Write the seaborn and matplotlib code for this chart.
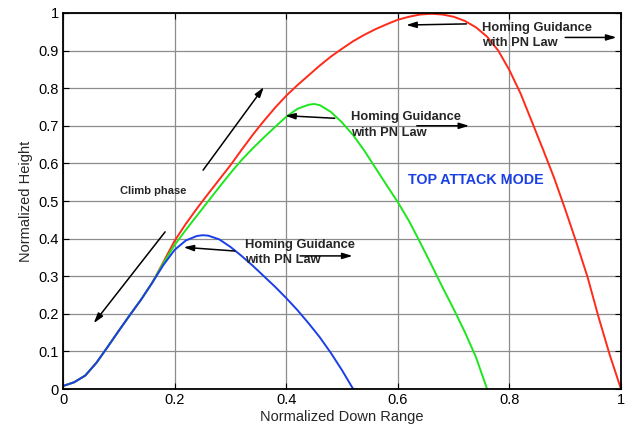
import numpy as np
import pandas as pd
import matplotlib
matplotlib.use('Agg')
import matplotlib.pyplot as plt
from matplotlib.ticker import FuncFormatter
import seaborn as sns

sns.set_style('ticks')
plt.rcParams['font.family'] = ['Liberation Sans', 'DejaVu Sans']

# trajectories (normalized down range, normalized height)
climb_x = [0, 0.02, 0.04, 0.06, 0.08, 0.10, 0.12, 0.14, 0.16]
climb_y = [0.008, 0.018, 0.036, 0.07, 0.112, 0.155, 0.197, 0.238, 0.283]

blue_x = climb_x + [0.18, 0.20, 0.22, 0.24, 0.25, 0.26, 0.28, 0.30, 0.32, 0.34, 0.36,
                    0.38, 0.40, 0.42, 0.44, 0.46, 0.48, 0.50, 0.52]
blue_y = climb_y + [0.33, 0.37, 0.395, 0.407, 0.409, 0.408, 0.398, 0.378, 0.354, 0.328,
                    0.30, 0.272, 0.242, 0.21, 0.175, 0.138, 0.096, 0.05, 0.0]

green_x = climb_x + [0.18, 0.20, 0.22, 0.24, 0.26, 0.28, 0.30, 0.32, 0.34, 0.36, 0.38,
                     0.40, 0.42, 0.44, 0.45, 0.46, 0.48, 0.50, 0.52, 0.54, 0.56, 0.58,
                     0.60, 0.62, 0.64, 0.66, 0.68, 0.70, 0.72, 0.74, 0.76]
green_y = climb_y + [0.335, 0.383, 0.423, 0.461, 0.499, 0.537, 0.574, 0.609, 0.64, 0.669,
                     0.697, 0.724, 0.745, 0.756, 0.758, 0.755, 0.737, 0.709, 0.675,
                     0.634, 0.588, 0.542, 0.497, 0.447, 0.39, 0.331, 0.271, 0.213,
                     0.152, 0.085, 0.0]

red_x = climb_x + [0.18, 0.20, 0.22, 0.24, 0.26, 0.28, 0.30, 0.32, 0.34, 0.36, 0.38,
                   0.40, 0.42, 0.44, 0.46, 0.48, 0.50, 0.52, 0.54, 0.56, 0.58, 0.60,
                   0.62, 0.64, 0.66, 0.68, 0.70, 0.72, 0.74, 0.76, 0.78, 0.80, 0.82,
                   0.84, 0.86, 0.88, 0.90, 0.92, 0.94, 0.96, 0.98, 1.0]
red_y = climb_y + [0.338, 0.394, 0.439, 0.48, 0.519, 0.557, 0.595, 0.636, 0.676, 0.713,
                   0.748, 0.78, 0.808, 0.834, 0.86, 0.884, 0.905, 0.925, 0.942, 0.957,
                   0.97, 0.982, 0.99, 0.996, 0.998, 0.996, 0.99, 0.979, 0.962, 0.937,
                   0.90, 0.848, 0.786, 0.712, 0.638, 0.562, 0.478, 0.39, 0.298, 0.19,
                   0.09, 0.0]

df = pd.concat([
    pd.DataFrame({'x': red_x, 'y': red_y, 'run': 'red'}),
    pd.DataFrame({'x': green_x, 'y': green_y, 'run': 'green'}),
    pd.DataFrame({'x': blue_x, 'y': blue_y, 'run': 'blue'}),
])
colors = {'red': '#ff2a1a', 'green': '#1ee61e', 'blue': '#1a3fe6'}

x_ticks = [0, 0.2, 0.4, 0.6, 0.8, 1]
y_ticks = [0, 0.1, 0.2, 0.3, 0.4, 0.5, 0.6, 0.7, 0.8, 0.9, 1]

# annotation text spots and arrows (tail -> head)
label_text = 'Homing Guidance\nwith PN Law'
labels_at = [(0.751, 0.941), (0.517, 0.702), (0.326, 0.362)]
arrows = [
    ((0.723, 0.971), (0.615, 0.968)),
    ((0.900, 0.935), (0.992, 0.935)),
    ((0.487, 0.720), (0.398, 0.727)),
    ((0.634, 0.700), (0.728, 0.700)),
    ((0.308, 0.367), (0.216, 0.377)),
    ((0.425, 0.354), (0.519, 0.354)),
    ((0.251, 0.582), (0.360, 0.803)),
    ((0.183, 0.418), (0.055, 0.175)),
]

fig = plt.figure(figsize=(6.32, 4.29), dpi=100)
ax = fig.add_axes([0.0997, 0.0932, 0.8829, 0.8765])

sns.lineplot(data=df, x='x', y='y', hue='run', palette=colors, sort=False,
             estimator=None, linewidth=1.4, legend=False, ax=ax)

ax.set_xlim(0, 1)
ax.set_ylim(0, 1)
ax.set_xticks(x_ticks)
ax.set_yticks(y_ticks)
fmt = FuncFormatter(lambda v, p: f'{v:g}')
ax.xaxis.set_major_formatter(fmt)
ax.yaxis.set_major_formatter(fmt)
ax.grid(True, color='#8c8c8c', linewidth=0.9)
ax.set_axisbelow(True)
ax.tick_params(direction='in', top=True, right=True, length=4, labelsize=10.5,
               colors='black', pad=3)
for spine in ax.spines.values():
    spine.set_visible(True)
    spine.set_color('black')
    spine.set_linewidth(1.3)
ax.set_xlabel('Normalized Down Range', fontsize=10.5, labelpad=2)
ax.set_ylabel('Normalized Height', fontsize=10.5, labelpad=4)

for (tx, ty) in labels_at:
    ax.text(tx, ty, label_text, fontsize=9.3, fontweight='bold', va='center',
            ha='left', linespacing=1.35)
for tail, head in arrows:
    ax.annotate('', xy=head, xytext=tail,
                arrowprops=dict(arrowstyle='-|>,head_length=0.6,head_width=0.18',
                                color='black', lw=1.1, shrinkA=0, shrinkB=0))

ax.text(0.103, 0.527, 'Climb phase', fontsize=8, fontweight='bold', va='center')
ax.text(0.618, 0.556, 'TOP ATTACK MODE', fontsize=10.3, fontweight='bold',
        color='#1a3fe6', va='center')

fig.savefig('out.png', dpi=100)
